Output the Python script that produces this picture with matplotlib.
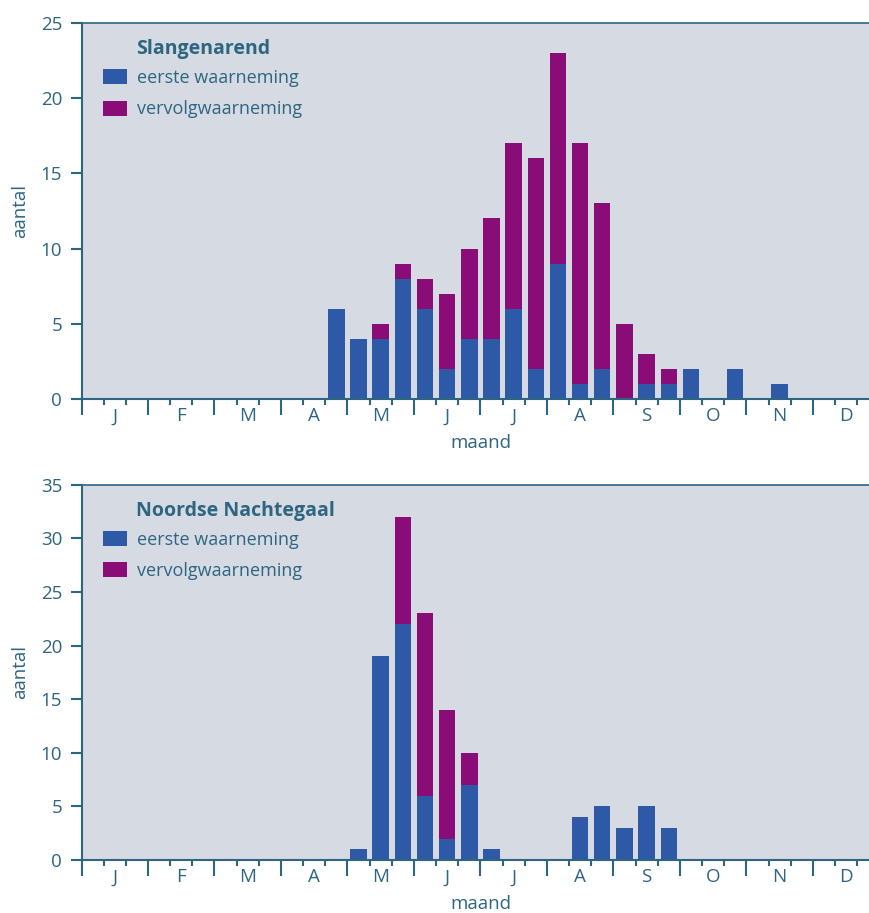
"""
Decade counts of two rare birds: first and follow-up observations.
"""
import numpy as np
import matplotlib.pyplot as plt
from matplotlib.ticker import MultipleLocator, FixedLocator

OUT = "out.png"

MONTHS = ["J", "F", "M", "A", "M", "J", "J", "A", "S", "O", "N", "D"]
N_DECADES = 36

# Slangenarend: decade index -> (eerste, vervolg)
SLANG_IDX    = [11, 12, 13, 14, 15, 16, 17, 18, 19, 20, 21, 22, 23, 24, 25, 26, 27, 29, 31]
SLANG_EERSTE = [6,  4,  4,  8,  6,  2,  4,  4,  6,  2,  9,  1,  2,  0,  1,  1,  2,  2,  1]
SLANG_VERVOLG = [0, 0,  1,  1,  2,  5,  6,  8,  11, 14, 14, 16, 11, 5,  2,  1,  0,  0,  0]

# Noordse Nachtegaal
NACHT_IDX     = [12, 13, 14, 15, 16, 17, 18, 22, 23, 24, 25, 26]
NACHT_EERSTE  = [1,  19, 22, 6,  2,  7,  1,  4,  5,  3,  5,  3]
NACHT_VERVOLG = [0,  0,  10, 17, 12, 3,  0,  0,  0,  0,  0,  0]

BLUE = "#2e59a6"
PURPLE = "#8a0c76"
BG = "#d6dbe3"
INK = "#2e6580"

plt.rcParams["font.family"] = ["Open Sans", "DejaVu Sans"]


def draw_panel(ax, idx, eerste, vervolg, title, ymax):
    x = np.array(idx) + 0.5
    ax.set_facecolor(BG)
    ax.bar(x, eerste, width=0.74, color=BLUE, label="eerste waarneming", zorder=2)
    ax.bar(x, vervolg, width=0.74, bottom=eerste, color=PURPLE,
           label="vervolgwaarneming", zorder=2)

    ax.set_xlim(0, N_DECADES)
    ax.set_ylim(0, ymax)
    ax.yaxis.set_major_locator(MultipleLocator(5))

    for s in ["left", "top", "bottom"]:
        ax.spines[s].set_color(INK)
        ax.spines[s].set_linewidth(1.5)
    ax.spines["top"].set_linewidth(1.2)
    ax.spines["right"].set_visible(False)

    ax.tick_params(axis="y", length=8, width=1.5, color=INK, labelcolor=INK,
                   labelsize=13.5, pad=6)
    # month boundaries: long ticks, decade boundaries: short ticks
    ax.xaxis.set_major_locator(MultipleLocator(3))
    ax.xaxis.set_minor_locator(MultipleLocator(1))
    ax.tick_params(axis="x", which="major", length=11.5, width=1.5, color=INK,
                   labelbottom=False)
    ax.tick_params(axis="x", which="minor", length=4.5, width=1.5, color=INK)

    sec = ax.secondary_xaxis("bottom")
    sec.xaxis.set_major_locator(FixedLocator(np.arange(12) * 3 + 1.5))
    sec.set_xticklabels(MONTHS)
    sec.tick_params(length=0, pad=6, labelsize=13.5, labelcolor=INK)
    sec.spines["bottom"].set_visible(False)
    sec.set_xlabel("maand", fontsize=13.5, color=INK, labelpad=6)

    ax.set_ylabel("aantal", fontsize=13.5, color=INK, labelpad=8)

    ax.text(0.068, 0.93, title, transform=ax.transAxes, fontsize=14,
            fontweight="bold", color=INK, va="center", ha="left")
    leg = ax.legend(loc="upper left", bbox_to_anchor=(0.018, 0.897), frameon=False,
                    fontsize=13, handlelength=1.3, handleheight=0.9,
                    handletextpad=0.55, labelspacing=0.75, borderaxespad=0)
    for t in leg.get_texts():
        t.set_color(INK)


def main():
    fig = plt.figure(figsize=(8.7, 9.13), dpi=100)
    ax1 = fig.add_axes([0.0937, 0.563, 0.917, 0.412])
    ax2 = fig.add_axes([0.0937, 0.058, 0.917, 0.411])
    draw_panel(ax1, SLANG_IDX, SLANG_EERSTE, SLANG_VERVOLG, "Slangenarend", 25)
    draw_panel(ax2, NACHT_IDX, NACHT_EERSTE, NACHT_VERVOLG, "Noordse Nachtegaal", 35)
    fig.savefig(OUT, dpi=100)
    plt.close(fig)


if __name__ == "__main__":
    main()
